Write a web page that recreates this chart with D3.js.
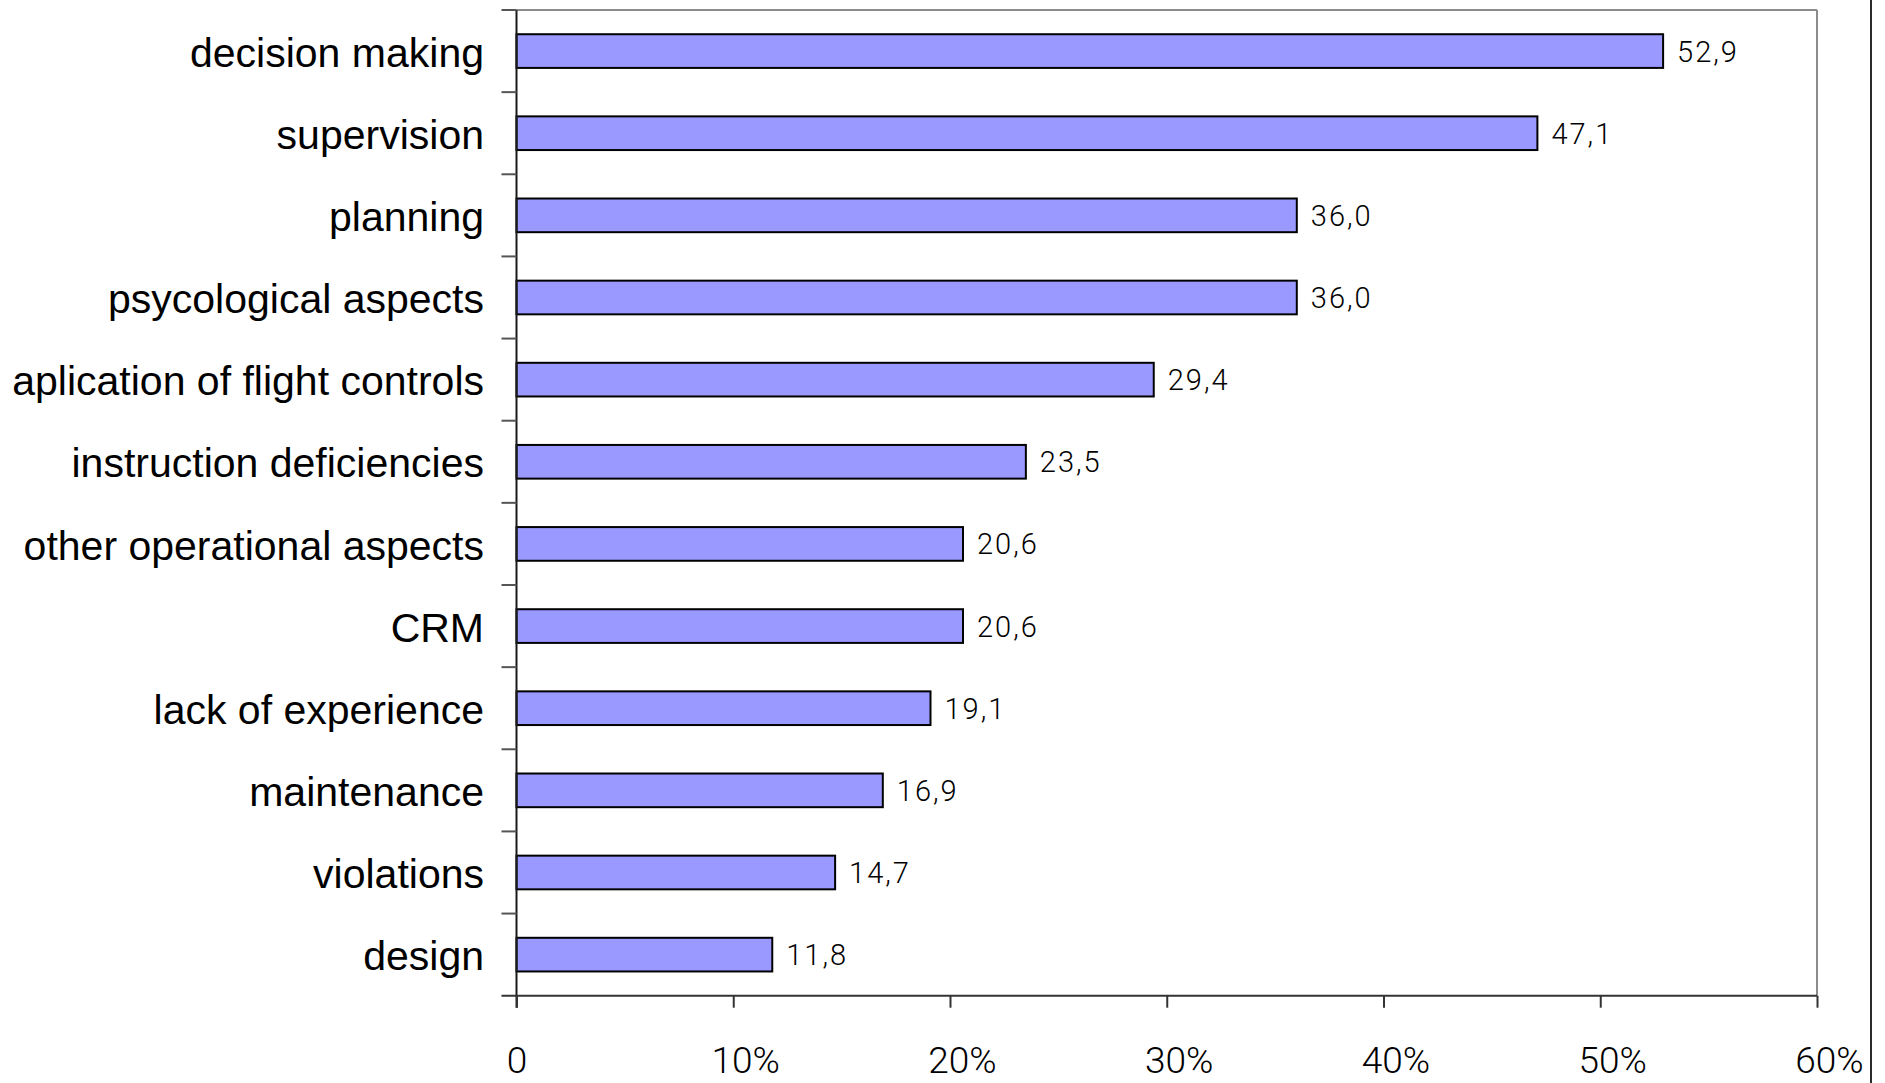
<!DOCTYPE html>
<html>
<head>
<meta charset="utf-8">
<script src="https://cdn.jsdelivr.net/npm/d3@7/dist/d3.min.js"></script>
<style>
  html, body { margin: 0; padding: 0; background: #fff; }
  svg { display: block; }
</style>
</head>
<body>
<svg id="chart" width="1885" height="1083"></svg>
<script>
const categories = ["decision making", "supervision", "planning", "psycological aspects",
  "aplication of flight controls", "instruction deficiencies", "other operational aspects",
  "CRM", "lack of experience", "maintenance", "violations", "design"];
const values = [52.9, 47.1, 36.0, 36.0, 29.4, 23.5, 20.6, 20.6, 19.1, 16.9, 14.7, 11.8];
const tickValues = [0, 10, 20, 30, 40, 50, 60];
const tickLabels = ["0", "10%", "20%", "30%", "40%", "50%", "60%"];

(function () {
const svg = d3.select("#chart");
const pLeft = 516.5, pRight = 1817, pTop = 10, pBottom = 995.7;

const x = d3.scaleLinear().domain([0, 60]).range([pLeft, pRight]);
const y = d3.scaleBand().domain(categories).range([pTop, pBottom])
  .paddingInner(0.59).paddingOuter(0.295);
const step = y.step();

// plot frame (top and right, gray)
svg.append("line").attr("x1", pLeft).attr("x2", pRight).attr("y1", pTop).attr("y2", pTop)
  .attr("stroke", "#8c8c8c").attr("stroke-width", 2);
svg.append("line").attr("x1", pRight).attr("x2", pRight).attr("y1", pTop).attr("y2", pBottom)
  .attr("stroke", "#8c8c8c").attr("stroke-width", 2);

// outer image frame line at right
svg.append("line").attr("x1", 1871).attr("x2", 1871).attr("y1", 0).attr("y2", 1083)
  .attr("stroke", "#2b2b2b").attr("stroke-width", 2);

// bars
svg.selectAll("rect.bar").data(categories).join("rect")
  .attr("class", "bar")
  .attr("x", x(0))
  .attr("y", d => y(d))
  .attr("width", (d, i) => x(values[i]) - x(0))
  .attr("height", y.bandwidth())
  .attr("fill", "#9999ff")
  .attr("stroke", "#000")
  .attr("stroke-width", 2);

// value labels
svg.selectAll("text.val").data(categories).join("text")
  .attr("class", "val")
  .attr("x", (d, i) => x(values[i]) + 14)
  .attr("y", d => y(d) + y.bandwidth() / 2)
  .attr("dy", "0.36em")
  .attr("font-family", "Roboto, 'Liberation Sans', sans-serif")
  .attr("font-weight", 300)
  .attr("font-size", 29)
  .attr("letter-spacing", "2px")
  .attr("fill", "#000")
  .text((d, i) => d3.format(".1f")(values[i]).replace(".", ","));

// left axis line + band-boundary ticks
svg.append("line").attr("x1", pLeft).attr("x2", pLeft).attr("y1", pTop).attr("y2", pBottom + 12)
  .attr("stroke", "#1a1a1a").attr("stroke-width", 2);
const bounds = d3.range(categories.length).map(i => y.range()[0] + i * step);
svg.selectAll("line.ytick").data(bounds).join("line")
  .attr("class", "ytick")
  .attr("x1", pLeft - 15).attr("x2", pLeft)
  .attr("y1", d => d).attr("y2", d => d)
  .attr("stroke", "#555").attr("stroke-width", 2);

// category labels
svg.selectAll("text.cat").data(categories).join("text")
  .attr("class", "cat")
  .attr("x", 484)
  .attr("y", d => y(d) + y.bandwidth() / 2)
  .attr("dy", "0.38em")
  .attr("text-anchor", "end")
  .attr("font-family", "'Liberation Sans', Arial, sans-serif")
  .attr("font-size", 41)
  .attr("fill", "#000")
  .text(d => d);

// bottom axis
const xAxis = d3.axisBottom(x).tickValues(tickValues)
  .tickFormat((d, i) => tickLabels[i]).tickSize(12).tickSizeOuter(0);
const gx = svg.append("g").attr("transform", `translate(0,${pBottom})`).call(xAxis);
gx.select(".domain").attr("stroke", "#333").attr("stroke-width", 2)
  .attr("d", `M${pLeft - 15},0H${pRight}`);
gx.selectAll(".tick line").attr("stroke", "#333").attr("stroke-width", 2);
gx.selectAll(".tick text")
  .attr("y", 77)
  .attr("dy", 0)
  .attr("dx", (d) => d === 0 ? 0 : 12)
  .attr("font-family", "Roboto, 'Liberation Sans', sans-serif")
  .attr("font-weight", 300)
  .attr("font-size", 37)
  .attr("fill", "#000");
})();
</script>
</body>
</html>
